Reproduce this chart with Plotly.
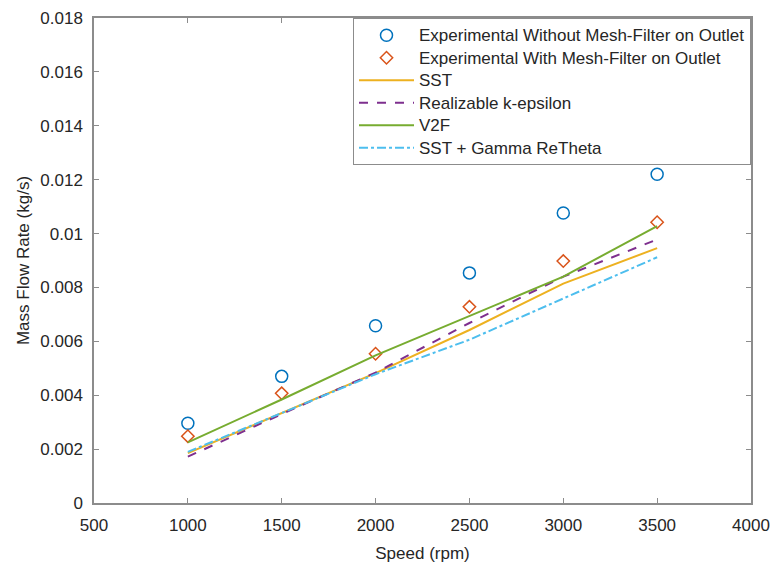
import plotly.graph_objects as go

speed = [1000, 1500, 2000, 2500, 3000, 3500]
exp_without = [0.00296, 0.00470, 0.00658, 0.00854, 0.01076, 0.01220]
exp_with = [0.00248, 0.00407, 0.00554, 0.00728, 0.00898, 0.01042]
sst = [0.00185, 0.00333, 0.00482, 0.00642, 0.00814, 0.00946]
realizable = [0.00172, 0.00330, 0.00484, 0.00668, 0.00840, 0.00978]
v2f = [0.00225, 0.00384, 0.00548, 0.00695, 0.00840, 0.01028]
sst_gamma = [0.00190, 0.00335, 0.00478, 0.00606, 0.00760, 0.00912]

x_ticks = [500, 1000, 1500, 2000, 2500, 3000, 3500, 4000]
y_ticks = [0, 0.002, 0.004, 0.006, 0.008, 0.01, 0.012, 0.014, 0.016, 0.018]
y_tick_text = ["0", "0.002", "0.004", "0.006", "0.008", "0.01", "0.012", "0.014", "0.016", "0.018"]

FONT = "Liberation Sans, Arial, sans-serif"


def lg(name):
    return '<span style="font-size:17px">' + name + '</span>'


fig = go.Figure()
fig.add_trace(go.Scatter(x=speed, y=exp_without, mode="markers", name=lg("Experimental Without Mesh-Filter on Outlet"),
                         marker=dict(symbol="circle-open", size=12, color="#0072BD", line=dict(width=1.5))))
fig.add_trace(go.Scatter(x=speed, y=exp_with, mode="markers", name=lg("Experimental With Mesh-Filter on Outlet"),
                         marker=dict(symbol="diamond-open", size=9.5, color="#D95319", line=dict(width=1.5))))
fig.add_trace(go.Scatter(x=speed, y=sst, mode="lines", name=lg("SST"),
                         line=dict(color="#EDB120", width=2)))
fig.add_trace(go.Scatter(x=speed, y=realizable, mode="lines", name=lg("Realizable k-epsilon"),
                         line=dict(color="#7E2F8E", width=2, dash="dash")))
fig.add_trace(go.Scatter(x=speed, y=v2f, mode="lines", name=lg("V2F"),
                         line=dict(color="#77AC30", width=2)))
fig.add_trace(go.Scatter(x=speed, y=sst_gamma, mode="lines", name=lg("SST + Gamma ReTheta"),
                         line=dict(color="#4DBEEE", width=2, dash="dashdot")))

axis_common = dict(showgrid=False, zeroline=False, showline=True, linecolor="#8c8c8c", linewidth=1.5,
                   mirror="allticks", ticks="inside", ticklen=5, tickcolor="#8c8c8c", automargin=False,
                   tickfont=dict(family=FONT, size=17, color="#262626"))
fig.update_xaxes(range=[500, 4000], tickvals=x_ticks, ticklabelstandoff=6,
                 title=dict(text="Speed (rpm)", standoff=13,
                            font=dict(family=FONT, size=17, color="#262626")), **axis_common)
fig.update_yaxes(range=[0, 0.018], tickvals=y_ticks, ticktext=y_tick_text, ticklabelstandoff=6,
                 title=dict(text="Mass Flow Rate (kg/s)", standoff=6,
                            font=dict(family=FONT, size=17, color="#262626")),
                 **axis_common)
fig.update_layout(
    width=772, height=564,
    margin=dict(l=94, r=21, t=18, b=61),
    paper_bgcolor="white", plot_bgcolor="white",
    font=dict(family=FONT, color="#262626"),
    legend=dict(x=1, y=1, xanchor="right", yanchor="top", bgcolor="white",
                bordercolor="#8c8c8c", borderwidth=1, font=dict(family=FONT, size=15, color="#262626"),
                itemwidth=55),
    showlegend=True,
)
fig.write_html("out.html")
